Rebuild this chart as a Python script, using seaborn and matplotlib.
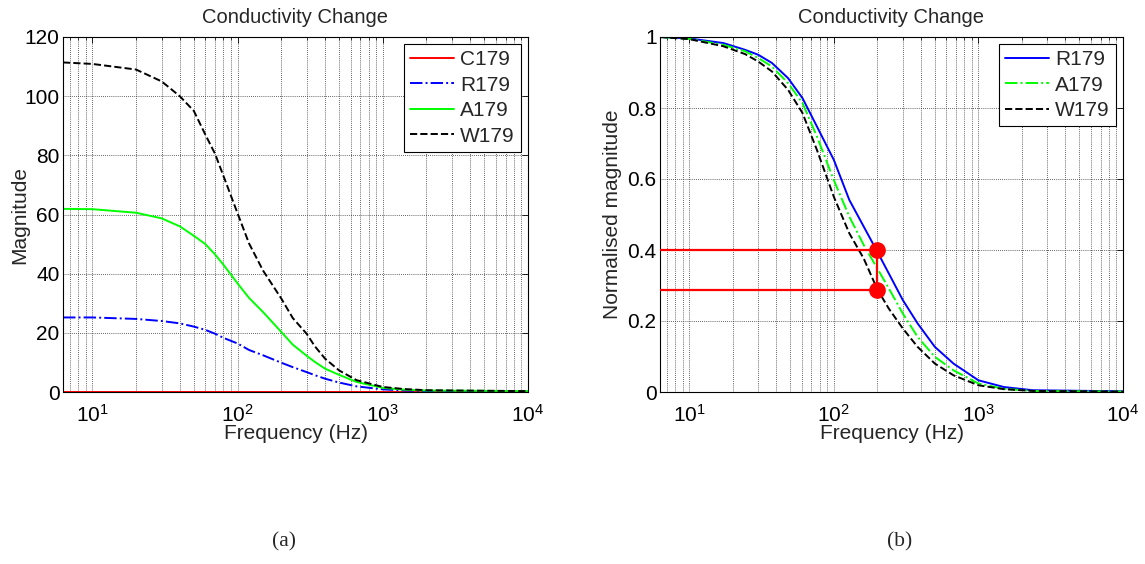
import numpy as np
import pandas as pd
import matplotlib
matplotlib.use("Agg")
import matplotlib.pyplot as plt
from matplotlib.ticker import LogLocator, LogFormatterMathtext, NullFormatter, FuncFormatter
import seaborn as sns

# ---- (a) absolute conductivity-change magnitude ----
freq_a = [6.28, 10, 20, 30, 40, 50, 60, 70, 80, 100, 120, 150, 200, 240, 300,
          340, 400, 500, 660, 1000, 1400, 2000, 10000]
c179 = [0.0] * len(freq_a)
r179 = [25.2, 25.2, 24.7, 24.0, 23.2, 22.1, 21.0, 19.7, 18.3, 16.4, 14.2, 12.4,
        9.9, 8.4, 6.7, 5.7, 4.5, 3.2, 1.9, 0.9, 0.5, 0.3, 0.2]
a179 = [61.9, 61.8, 60.6, 58.7, 56.0, 52.8, 50.0, 46.5, 43.0, 36.7, 31.8, 27.0,
        20.3, 16.0, 12.2, 10.2, 7.9, 5.8, 3.4, 1.4, 0.8, 0.5, 0.3]
w179 = [111.4, 110.9, 109.0, 105.0, 100.0, 95.0, 87.0, 80.5, 73.0, 60.4, 50.2,
        41.0, 31.6, 25.0, 19.6, 15.5, 11.3, 7.3, 4.0, 1.7, 1.0, 0.6, 0.3]

# ---- (b) normalised magnitude ----
freq_b = [6.28, 10, 17.2, 24.3, 30, 37.3, 48.3, 60.7, 76.4, 100, 128, 161, 200,
          240, 300, 380, 500, 673, 1000, 1500, 2380, 10000]
r179_n = [1.0, 0.996, 0.983, 0.964, 0.950, 0.927, 0.884, 0.828, 0.748, 0.654,
          0.541, 0.466, 0.395, 0.334, 0.259, 0.193, 0.127, 0.080, 0.033, 0.014,
          0.005, 0.002]
a179_n = [1.0, 0.995, 0.978, 0.960, 0.941, 0.917, 0.870, 0.814, 0.720, 0.597,
          0.494, 0.414, 0.348, 0.292, 0.221, 0.155, 0.099, 0.061, 0.024, 0.009,
          0.003, 0.001]
w179_n = [1.0, 0.994, 0.974, 0.952, 0.931, 0.903, 0.851, 0.786, 0.682, 0.550,
          0.447, 0.376, 0.289, 0.235, 0.179, 0.127, 0.080, 0.047, 0.019, 0.008,
          0.003, 0.001]

# highlighted operating point
mark_freq = 200
mark_levels = [0.4, 0.287]

sns.set_style("white")
plt.rcParams["font.family"] = ["Liberation Sans", "DejaVu Sans"]
plt.rcParams["mathtext.fontset"] = "custom"
plt.rcParams["mathtext.rm"] = "Liberation Sans"
plt.rcParams["mathtext.it"] = "Liberation Sans:italic"
plt.rcParams["mathtext.bf"] = "Liberation Sans:bold"

W, H = 1145, 564
fig = plt.figure(figsize=(W / 100, H / 100), dpi=100)


def px_axes(x0, x1, y0, y1):
    return fig.add_axes([x0 / W, 1 - y1 / H, (x1 - x0) / W, (y1 - y0) / H])


ax1 = px_axes(63, 528, 37, 392)
ax2 = px_axes(660, 1123, 37, 392)

LW = 1.4
series_a = [
    ("C179", c179, "#ff0000", "-"),
    ("R179", r179, "#0000ff", "-."),
    ("A179", a179, "#00ff00", "-"),
    ("W179", w179, "#000000", "--"),
]
for name, vals, col, ls in series_a:
    sns.lineplot(x=freq_a, y=vals, ax=ax1, color=col, linestyle=ls, lw=LW,
                 label=name, sort=False, estimator=None)

series_b = [
    ("R179", r179_n, "#0000ff", "-"),
    ("A179", a179_n, "#00ff00", "-."),
    ("W179", w179_n, "#000000", "--"),
]
for name, vals, col, ls in series_b:
    sns.lineplot(x=freq_b, y=vals, ax=ax2, color=col, linestyle=ls, lw=LW,
                 label=name, sort=False, estimator=None)

xmin, xmax = 6.28, 1e4
# red guide lines and markers on (b)
for lv in mark_levels:
    ax2.plot([xmin, mark_freq], [lv, lv], color="#ff0000", lw=1.6, zorder=4)
ax2.plot([mark_freq, mark_freq], mark_levels, color="#ff0000", lw=1.6, zorder=4)
ax2.plot([mark_freq] * len(mark_levels), mark_levels, "o", color="#ff0000",
         ms=11, zorder=5)

FS = 15
for ax, ylim, yticks, ylabel, ylab_x in [
    (ax1, (0, 120), np.arange(0, 121, 20), "Magnitude", -0.073),
    (ax2, (0, 1), np.arange(0, 1.01, 0.2), "Normalised magnitude", -0.081),
]:
    ax.set_xscale("log")
    ax.set_xlim(xmin, xmax)
    ax.set_ylim(*ylim)
    ax.set_yticks(yticks)
    ax.yaxis.set_major_formatter(FuncFormatter(lambda v, p: f"{v:g}"))
    ax.xaxis.set_major_locator(LogLocator(base=10))
    ax.xaxis.set_minor_locator(LogLocator(base=10, subs=np.arange(2, 10)))
    ax.xaxis.set_major_formatter(LogFormatterMathtext())
    ax.xaxis.set_minor_formatter(NullFormatter())
    ax.grid(which="both", axis="x", color="#333333", linestyle=(0, (1, 1.5)),
            linewidth=0.6)
    ax.grid(which="major", axis="y", color="#333333", linestyle=(0, (1, 1.5)),
            linewidth=0.6)
    ax.tick_params(which="both", direction="in", top=True, right=True,
                   labelsize=FS, colors="k")
    ax.tick_params(which="major", length=4, width=0.6)
    ax.tick_params(which="minor", length=2, width=0.5)
    ax.tick_params(axis="x", pad=8.5)
    ax.tick_params(axis="y", pad=2.5)
    for s in ax.spines.values():
        s.set_color("k")
        s.set_linewidth(0.8)
    ax.set_title("Conductivity Change", fontsize=14.5, pad=10)
    ax.set_xlabel("Frequency (Hz)", fontsize=FS)
    ax.xaxis.set_label_coords(0.5, -0.089)
    ax.set_ylabel(ylabel, fontsize=FS)
    ax.yaxis.set_label_coords(ylab_x, 0.5)
    leg = ax.legend(loc="upper right", fontsize=FS, frameon=True,
                    fancybox=False, framealpha=1, edgecolor="k",
                    borderaxespad=0.33, handlelength=2.1, labelspacing=0.31,
                    borderpad=0.3, handletextpad=0.3)
    leg.get_frame().set_linewidth(0.8)

fig.text(284 / W, 1 - 542 / H, "(a)", ha="center", va="center",
         fontsize=15.5, family=["Liberation Serif", "DejaVu Serif"])
fig.text(900 / W, 1 - 542 / H, "(b)", ha="center", va="center",
         fontsize=15.5, family=["Liberation Serif", "DejaVu Serif"])

fig.savefig("out.png", dpi=100, facecolor="white")
